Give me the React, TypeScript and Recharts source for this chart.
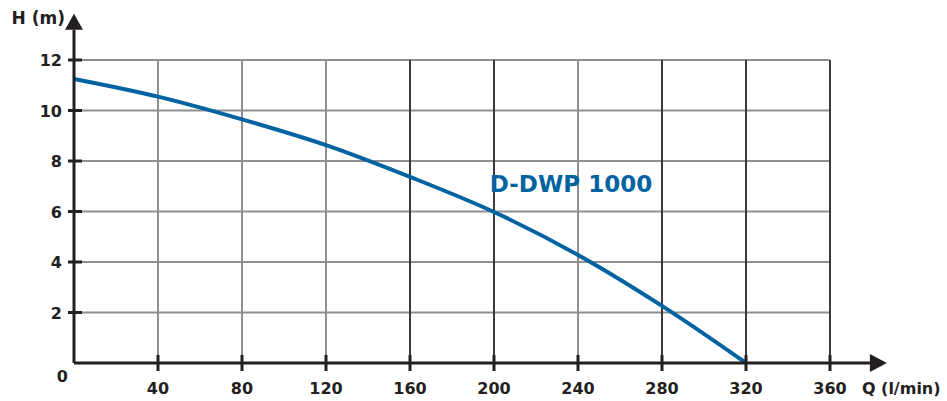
import React from 'react';
import { LineChart, Line, XAxis, YAxis, CartesianGrid, ReferenceLine, ReferenceDot } from 'recharts';

// pump curve D-DWP 1000
const flowLpm = [0, 40, 80, 120, 160, 200, 240, 280, 320];
const headM = [11.25, 10.55, 9.65, 8.63, 7.37, 5.98, 4.28, 2.26, 0];

const xTicks = [0, 40, 80, 120, 160, 200, 240, 280, 320, 360];
const yTicks = [0, 2, 4, 6, 8, 10, 12];
const lightGridQ = [40, 80, 120, 240];
const darkGridQ = [160, 200, 280, 320, 360];

const seriesName = 'D-DWP 1000';

const data = flowLpm.map((q, i) => ({ q, h: headM[i] }));

const INK = '#231f20';
const BLUE = '#0063a1';
const FONT = '"DejaVu Sans", "Liberation Sans", sans-serif';

const XTick = ({ x, y, payload }: any) => {
  if (payload.value === 0) return <g />;
  return (
    <g>
      <line x1={x} x2={x} y1={y - 8} y2={y + 8} stroke={INK} strokeWidth={3} />
      <text x={x} y={y + 31} textAnchor="middle" fontFamily={FONT} fontWeight="bold" fontSize={16} fill={INK}>
        {payload.value}
      </text>
    </g>
  );
};

const YTick = ({ x, y, payload }: any) => {
  if (payload.value === 0) {
    return (
      <text x={x - 6} y={y + 19} textAnchor="end" fontFamily={FONT} fontWeight="bold" fontSize={16} fill={INK}>
        0
      </text>
    );
  }
  return (
    <g>
      <line x1={x - 6} x2={x + 8} y1={y} y2={y} stroke={INK} strokeWidth={3} />
      <text x={x - 12} y={y + 6} textAnchor="end" fontFamily={FONT} fontWeight="bold" fontSize={16} fill={INK}>
        {payload.value}
      </text>
    </g>
  );
};

const XArrow = ({ cx, cy }: any) => (
  <g>
    <polygon points={`${cx},${cy - 9} ${cx + 17},${cy} ${cx},${cy + 9}`} fill={INK} />
    <text x={cx - 8} y={cy + 31} fontFamily={FONT} fontWeight="bold" fontSize={16} fill={INK}>
      Q (l/min)
    </text>
  </g>
);

const YArrow = ({ cx, cy }: any) => (
  <g>
    <polygon points={`${cx - 9},${cy} ${cx + 9},${cy} ${cx},${cy - 16}`} fill={INK} />
    <text x={cx - 9} y={cy - 6} textAnchor="end" fontFamily={FONT} fontWeight="bold" fontSize={17} fill={INK}>
      H (m)
    </text>
  </g>
);

const SeriesLabel = ({ cx, cy }: any) => (
  <text x={cx} y={cy} dominantBaseline="central" fontFamily={FONT} fontWeight="bold" fontSize={23} fill={BLUE}>
    {seriesName}
  </text>
);

const App = () => {
  return (
    <div style={{ position: 'absolute', left: 0, top: 0, width: 947, height: 401, background: '#fff' }}>
      <LineChart width={947} height={401} data={data} margin={{ top: 60, right: 117, bottom: 0, left: 0 }}>
        <CartesianGrid vertical={false} stroke="#8f8f8f" strokeWidth={2} />
        {lightGridQ.map((q) => (
          <ReferenceLine key={`l${q}`} x={q} stroke="#8f8f8f" strokeWidth={2} />
        ))}
        {darkGridQ.map((q) => (
          <ReferenceLine key={`d${q}`} x={q} stroke="#3a3a3a" strokeWidth={2} />
        ))}
        <XAxis
          dataKey="q"
          type="number"
          domain={[0, 360]}
          ticks={xTicks}
          interval={0}
          axisLine={false}
          tickLine={false}
          tickSize={0}
          tickMargin={0}
          height={38}
          tick={<XTick />}
        />
        <YAxis
          type="number"
          domain={[0, 12]}
          ticks={yTicks}
          interval={0}
          axisLine={false}
          tickLine={false}
          tickSize={0}
          tickMargin={0}
          width={74}
          tick={<YTick />}
        />
        <Line
          dataKey="h"
          type="monotone"
          stroke={BLUE}
          strokeWidth={4}
          dot={false}
          activeDot={false}
          isAnimationActive={false}
        />
        <ReferenceLine segment={[{ x: 0, y: 0 }, { x: 379, y: 0 }]} ifOverflow="visible" stroke={INK} strokeWidth={3} />
        <ReferenceLine segment={[{ x: 0, y: 0 }, { x: 0, y: 13.2 }]} ifOverflow="visible" stroke={INK} strokeWidth={3} />
        <ReferenceDot x={379} y={0} ifOverflow="visible" shape={<XArrow />} />
        <ReferenceDot x={0} y={13.2} ifOverflow="visible" shape={<YArrow />} />
        <ReferenceDot x={198} y={7.1} ifOverflow="visible" shape={<SeriesLabel />} />
      </LineChart>
    </div>
  );
};

export default App;
